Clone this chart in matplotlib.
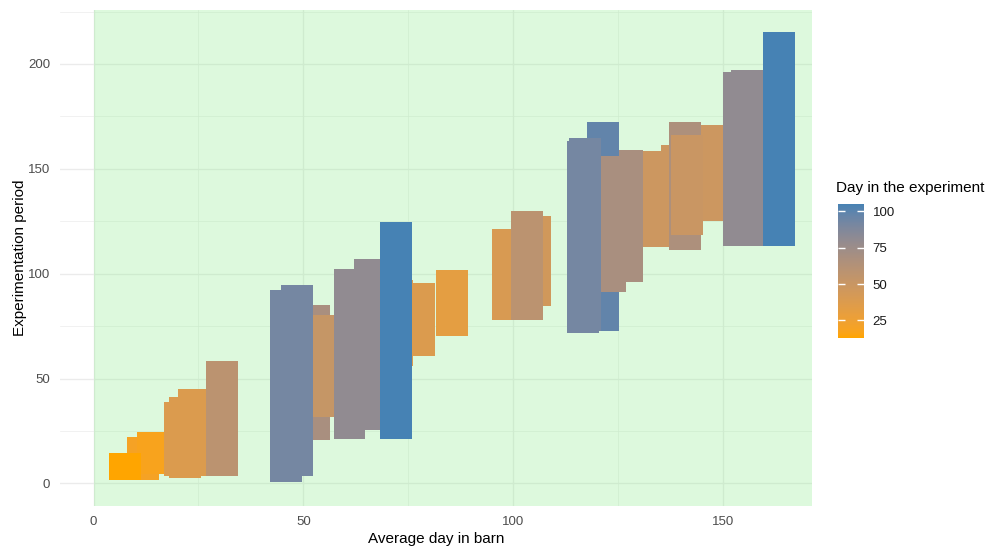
import matplotlib
matplotlib.use('Agg')
import matplotlib.pyplot as plt
import numpy as np
from matplotlib.colors import ListedColormap, Normalize, to_rgb
from matplotlib.cm import ScalarMappable

plt.rcParams['font.family'] = ['Liberation Sans', 'DejaVu Sans']

# bars, listed in drawing order (later ones sit on top)
bar_x   = [11.7, 14.2, 7.6, 20.5, 21.7, 24.0, 30.6, 52.6, 56.0, 45.9, 48.5, 61.0, 65.9,
           72.3, 77.5, 72.0, 85.4, 98.8, 105.2, 103.3, 133.3, 127.1, 121.5, 123.2,
           116.6, 117.2, 139.0, 146.3, 141.0, 141.5, 153.8, 155.8, 163.4]
bar_lo  = [1.6, 4.3, 1.6, 3.5, 2.7, 3.8, 3.8, 20.6, 31.6, 0.6, 3.8, 21.0, 25.7,
           55.9, 60.8, 21.0, 70.5, 77.8, 84.8, 77.8, 112.7, 96.2, 72.7, 91.3,
           71.8, 72.5, 112.7, 125.1, 111.4, 118.7, 113.3, 113.3, 113.3]
bar_hi  = [22.2, 24.4, 14.6, 38.7, 41.4, 45.2, 58.4, 85.2, 80.3, 92.4, 94.6, 102.2, 107.0,
           97.0, 95.7, 124.6, 101.6, 121.3, 127.3, 130.0, 158.4, 159.0, 172.2, 156.2,
           163.5, 164.6, 161.3, 171.1, 172.4, 166.3, 196.2, 197.3, 215.2]
bar_day = [20, 18, 13, 38, 38, 38, 58, 68, 52, 92, 92, 80, 80,
           38, 38, 105, 32, 40, 45, 58, 48, 68, 98, 68,
           92, 92, 48, 48, 66, 50, 80, 80, 105]

legend_ticks = [25, 50, 75, 100]
x_ticks = [0, 50, 100, 150]
y_ticks = [0, 50, 100, 150, 200]

BAR_W = 7.6
WHITE = np.array([0.95047, 1.0, 1.08883])
M = np.array([[0.4124, 0.3576, 0.1805],
              [0.2126, 0.7152, 0.0722],
              [0.0193, 0.1192, 0.9505]])


def srgb_to_lab(rgb):
    rgb = np.asarray(rgb, float)
    lin = np.where(rgb <= 0.04045, rgb / 12.92, ((rgb + 0.055) / 1.055) ** 2.4)
    xyz = M @ lin / WHITE
    f = np.where(xyz > (6 / 29) ** 3, np.cbrt(xyz), xyz / (3 * (6 / 29) ** 2) + 4 / 29)
    return np.array([116 * f[1] - 16, 500 * (f[0] - f[1]), 200 * (f[1] - f[2])])


def lab_to_srgb(lab):
    L, a, b = lab
    fy = (L + 16) / 116
    f = np.array([fy + a / 500, fy, fy - b / 200])
    xyz = np.where(f > 6 / 29, f ** 3, 3 * (6 / 29) ** 2 * (f - 4 / 29)) * WHITE
    lin = np.linalg.inv(M) @ xyz
    lin = np.clip(lin, 0, None)
    rgb = np.where(lin <= 0.0031308, 12.92 * lin, 1.055 * lin ** (1 / 2.4) - 0.055)
    return np.clip(rgb, 0, 1)


# ggplot-like gradient, interpolated in Lab space
lo_lab = srgb_to_lab(to_rgb('orange'))
hi_lab = srgb_to_lab(to_rgb('steelblue'))
cmap = ListedColormap([lab_to_srgb(lo_lab + t * (hi_lab - lo_lab)) for t in np.linspace(0, 1, 256)])
norm = Normalize(vmin=min(bar_day), vmax=max(bar_day))

fig = plt.figure(figsize=(10.06, 5.54), dpi=100)
ax = fig.add_axes([0.0596, 0.0866, 0.7475, 0.8954])

xlim = (-8.0, 171.2)
ylim = (-10.75, 225.75)

ax.set_axisbelow(True)
ax.set_xticks(x_ticks)
ax.set_yticks(y_ticks)
ax.set_xticks([25, 75, 125], minor=True)
ax.set_yticks([25, 75, 125, 175, 225], minor=True)
ax.grid(which='major', color='#EBEBEB', linewidth=1.0)
ax.grid(which='minor', color='#EBEBEB', linewidth=0.5)

ax.axvspan(0, xlim[1], color='lightgreen', alpha=0.3, lw=0, zorder=1)

colors = cmap(norm(np.array(bar_day)))
ax.bar(bar_x, np.array(bar_hi) - np.array(bar_lo), bottom=bar_lo, width=BAR_W,
       color=colors, linewidth=0, zorder=2)

ax.set_xlim(*xlim)
ax.set_ylim(*ylim)
for s in ax.spines.values():
    s.set_visible(False)
ax.tick_params(which='both', length=0, labelsize=9.5, labelcolor='#4D4D4D', pad=7)
ax.set_xlabel('Average day in barn', fontsize=11, labelpad=3)
ax.set_ylabel('Experimentation period', fontsize=11, labelpad=1)

cax = fig.add_axes([0.833, 0.39, 0.026, 0.242])
cb = fig.colorbar(ScalarMappable(norm=norm, cmap=cmap), cax=cax)
cb.outline.set_visible(False)
cb.set_ticks(legend_ticks)
cax.tick_params(left=True, right=True, labelleft=False, labelright=True, direction='in',
                length=5, width=1, color='white', labelsize=9.5, labelcolor='#1A1A1A', pad=6)
fig.text(0.831, 0.66, 'Day in the experiment', fontsize=11, va='center', ha='left')

fig.savefig('out.png', dpi=100)
